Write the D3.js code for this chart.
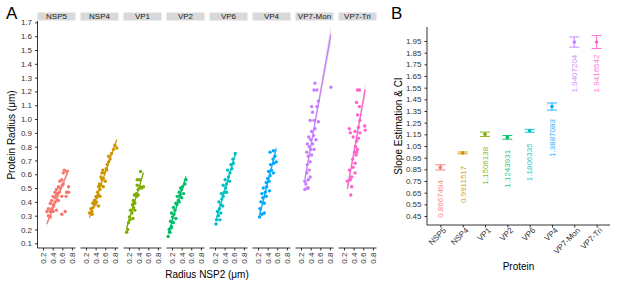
<!DOCTYPE html>
<html>
<head>
<meta charset="utf-8">
<script src="https://cdn.jsdelivr.net/npm/d3@7"></script>
<style>
  body { margin: 0; background: #fff; }
  svg { font-family: "Liberation Sans", Arial, Helvetica, sans-serif; }
  .axis path, .axis line { stroke: #000; stroke-width: 0.8; }
  .axis text { fill: #333; font-size: 8px; }
</style>
</head>
<body>
<svg id="chart" width="617" height="282"></svg>
<script>
"use strict";

// proteins and their hue colours
const proteins = ["NSP5", "NSP4", "VP1", "VP2", "VP6", "VP4", "VP7-Mon", "VP7-Tri"];
const colors = ["#F8766D", "#CD9600", "#7CAE00", "#00BE67", "#00BFC4", "#00A9FF", "#C77CFF", "#FF61CC"];

// panel A: [radius NSP2, protein radius] per protein (um)
const nsp5Points = [[0.64,0.63],[0.62,0.61],[0.69,0.62],[0.59,0.56],[0.55,0.55],[0.62,0.53],[0.52,0.51],[0.73,0.51],
  [0.48,0.49],[0.45,0.47],[0.54,0.47],[0.69,0.47],[0.41,0.44],[0.48,0.45],[0.59,0.44],[0.38,0.41],[0.45,0.40],
  [0.52,0.41],[0.35,0.39],[0.41,0.38],[0.31,0.35],[0.38,0.35],[0.28,0.33],[0.35,0.33],[0.41,0.33],[0.59,0.31],
  [0.66,0.33],[0.48,0.34],[0.31,0.30],[0.35,0.29],[0.73,0.47],[0.68,0.44],[0.45,0.43],[0.50,0.46],[0.42,0.37],
  [0.55,0.50],[0.60,0.52]];
const nsp4Points = [[0.27,0.32],[0.32,0.33],[0.30,0.35],[0.35,0.36],[0.39,0.38],[0.34,0.39],[0.42,0.40],[0.37,0.41],
  [0.41,0.44],[0.46,0.45],[0.44,0.47],[0.49,0.49],[0.46,0.51],[0.51,0.52],[0.48,0.53],[0.53,0.56],[0.56,0.57],
  [0.51,0.58],[0.58,0.61],[0.55,0.63],[0.62,0.64],[0.64,0.67],[0.67,0.69],[0.70,0.71],[0.67,0.73],[0.73,0.75],
  [0.77,0.78],[0.84,0.79],[0.80,0.81],[0.42,0.43],[0.39,0.39],[0.49,0.44],[0.56,0.51],[0.60,0.55],[0.46,0.37],
  [0.33,0.31],[0.53,0.61],[0.63,0.63]];
const vp1Points = [[0.15,0.18],[0.17,0.20],[0.19,0.25],[0.22,0.27],[0.21,0.29],[0.26,0.32],[0.23,0.34],[0.29,0.36],
  [0.27,0.38],[0.32,0.39],[0.29,0.41],[0.36,0.44],[0.31,0.45],[0.35,0.46],[0.39,0.49],[0.43,0.51],[0.37,0.52],
  [0.46,0.50],[0.50,0.51],[0.42,0.56],[0.37,0.56],[0.44,0.62],[0.32,0.34],[0.28,0.28],[0.30,0.40],[0.39,0.45]];
const vp2Points = [[0.12,0.15],[0.16,0.18],[0.14,0.20],[0.19,0.22],[0.17,0.26],[0.21,0.29],[0.24,0.31],[0.19,0.32],
  [0.26,0.34],[0.23,0.36],[0.30,0.38],[0.28,0.39],[0.33,0.41],[0.31,0.44],[0.37,0.45],[0.35,0.47],[0.40,0.49],
  [0.42,0.51],[0.38,0.50],[0.47,0.53],[0.49,0.56],[0.44,0.46],[0.28,0.28],[0.23,0.25],[0.35,0.40],[0.40,0.43],
  [0.18,0.21]];
const vp6Points = [[0.22,0.24],[0.23,0.27],[0.27,0.30],[0.25,0.33],[0.29,0.35],[0.32,0.38],[0.28,0.40],[0.34,0.42],
  [0.37,0.44],[0.33,0.46],[0.39,0.47],[0.42,0.50],[0.37,0.52],[0.44,0.53],[0.41,0.56],[0.48,0.58],[0.51,0.61],
  [0.46,0.63],[0.55,0.64],[0.53,0.67],[0.58,0.68],[0.57,0.71],[0.62,0.75],[0.32,0.32],[0.36,0.37],[0.44,0.47],
  [0.50,0.55],[0.30,0.27]];
const vp4Points = [[0.23,0.29],[0.28,0.31],[0.33,0.32],[0.26,0.40],[0.30,0.43],[0.28,0.46],[0.35,0.47],[0.31,0.50],
  [0.38,0.51],[0.37,0.54],[0.43,0.55],[0.40,0.57],[0.45,0.59],[0.42,0.62],[0.48,0.63],[0.52,0.61],[0.46,0.67],
  [0.53,0.68],[0.51,0.71],[0.55,0.73],[0.45,0.76],[0.52,0.77],[0.58,0.69],[0.33,0.39],[0.37,0.44],[0.44,0.48],
  [0.24,0.35]];
const vp7MonPoints = [[0.28,0.49],[0.33,0.50],[0.30,0.53],[0.35,0.56],[0.32,0.61],[0.37,0.63],[0.33,0.67],[0.39,0.69],
  [0.35,0.73],[0.42,0.74],[0.32,0.76],[0.40,0.78],[0.37,0.80],[0.44,0.82],[0.40,0.85],[0.36,0.87],[0.46,0.88],
  [0.42,0.91],[0.49,0.93],[0.39,0.99],[0.47,0.99],[0.56,0.98],[0.44,1.05],[0.53,1.09],[0.42,1.09],[0.56,1.13],
  [0.47,1.21],[0.53,1.21],[0.49,1.26],[0.82,1.23],[0.35,0.50],[0.39,0.58],[0.47,0.78],[0.51,0.85],[0.33,0.82],
  [0.28,0.55]];
const vp7TriPoints = [[0.34,0.45],[0.27,0.55],[0.33,0.56],[0.36,0.58],[0.31,0.63],[0.39,0.65],[0.43,0.68],[0.38,0.71],
  [0.45,0.74],[0.42,0.76],[0.48,0.78],[0.44,0.80],[0.46,0.84],[0.50,0.86],[0.39,0.87],[0.53,0.90],[0.43,0.91],
  [0.33,0.90],[0.31,0.93],[0.50,0.94],[0.63,0.95],[0.64,0.92],[0.53,0.99],[0.48,1.03],[0.52,1.09],[0.46,1.12],
  [0.48,1.21],[0.52,1.21],[0.43,0.61],[0.46,0.76],[0.36,0.51]];
const scatterSets = [nsp5Points, nsp4Points, vp1Points, vp2Points, vp6Points, vp4Points, vp7MonPoints, vp7TriPoints];

// panel B: slope estimate and its confidence interval
const slopeEstimates = [0.8667494, 0.9911517, 1.1506138, 1.1243931, 1.1806335, 1.3887083, 1.9407204, 1.9416542];
const slopeLow = [0.845, 0.983, 1.132, 1.108, 1.168, 1.358, 1.897, 1.886];
const slopeHigh = [0.889, 0.999, 1.169, 1.140, 1.193, 1.419, 1.985, 1.997];

// tick values
const yTicksA = d3.range(1, 18).map(d => d / 10);
const xTicksA = [0.2, 0.4, 0.6, 0.8];
const yTicksB = d3.range(0, 16).map(d => 0.45 + d / 10);

let svg = d3.select("#chart");

// ---------- panel A ----------
let facetLeft = 37.5, facetPitch = 43, facetWidth = 38;
let aTop = 21, aBottom = 248;
let yA = d3.scaleLinear().domain([0.066, 1.71]).range([aBottom, aTop]);
let xA = d3.scaleLinear().domain([0.085, 0.875]).range([0, facetWidth]);

svg.append("text").attr("x", 6).attr("y", 19).style("font-size", "17px").text("A");

let yAxisA = d3.axisLeft(yA).tickValues(yTicksA).tickSize(2.5).tickFormat(d3.format(".1f"));
svg.append("g").classed("axis", true)
  .attr("transform", `translate(${facetLeft},0)`).call(yAxisA)
  .call(g => g.select(".domain").attr("d", `M0,${aTop}V${aBottom}`));

proteins.forEach((name, i) => {
  let pts = scatterSets[i];
  let g = svg.append("g").attr("transform", `translate(${facetLeft + facetPitch * i},0)`);

  g.append("rect").attr("x", 0).attr("y", 12.5).attr("width", facetWidth).attr("height", 8)
    .style("fill", "#d9d9d9");
  g.append("text").attr("x", facetWidth / 2).attr("y", 19.3).attr("text-anchor", "middle")
    .style("font-size", "8px").style("fill", "#1a1a1a").text(name);

  // fitted line through the centroid with slope from panel B, plus a narrow confidence band
  let slope = slopeEstimates[i];
  let mx = d3.mean(pts, d => d[0]), my = d3.mean(pts, d => d[1]);
  let n = pts.length;
  let sxx = d3.sum(pts, d => (d[0] - mx) ** 2);
  let s = Math.sqrt(d3.sum(pts, d => (d[1] - (my + slope * (d[0] - mx))) ** 2) / (n - 2));
  let [x0, x1] = d3.extent(pts, d => d[0]);
  let xs = d3.range(0, 21).map(k => x0 + (x1 - x0) * k / 20);
  let band = xs.map(x => {
    let fit = my + slope * (x - mx);
    let half = 0.7 * s * Math.sqrt(1 / n + (x - mx) ** 2 / sxx);
    return { x, lo: fit - half, hi: fit + half };
  });

  g.append("path").datum(band)
    .attr("d", d3.area().x(d => xA(d.x)).y0(d => yA(d.lo)).y1(d => yA(d.hi)))
    .style("fill", "#999").style("opacity", 0.3);

  pts.forEach(d => {
    g.append("circle").attr("cx", xA(d[0])).attr("cy", yA(d[1])).attr("r", 1.7)
      .style("fill", colors[i]);
  });

  g.append("line")
    .attr("x1", xA(x0)).attr("y1", yA(my + slope * (x0 - mx)))
    .attr("x2", xA(x1)).attr("y2", yA(my + slope * (x1 - mx)))
    .style("stroke", colors[i]).style("stroke-width", 1.3);

  let xAxis = d3.axisBottom(xA).tickValues(xTicksA).tickSize(2.5).tickFormat(d3.format(".1f"));
  g.append("g").classed("axis", true).attr("transform", `translate(0,${aBottom})`).call(xAxis)
    .call(ax => ax.select(".domain").attr("d", `M0,0H${facetWidth}`))
    .selectAll("text")
    .attr("transform", "rotate(-90)").attr("text-anchor", "end")
    .attr("x", -4.5).attr("y", 0).attr("dy", "0.32em");
});

svg.append("text").attr("x", (facetLeft + facetLeft + facetPitch * 7 + facetWidth) / 2).attr("y", 278)
  .attr("text-anchor", "middle").style("font-size", "10px").text("Radius NSP2 (μm)");
svg.append("text").attr("transform", `translate(15,135) rotate(-90)`)
  .attr("text-anchor", "middle").style("font-size", "10px").text("Protein Radius (μm)");

// ---------- panel B ----------
let bLeft = 427, bRight = 610, bTop = 27, bBottom = 225;
let yB = d3.scaleLinear().domain([0.373, 2.07]).range([bBottom, bTop]);
let xB = d3.scalePoint().domain(proteins).range([bLeft, bRight]).padding(0.6);

svg.append("text").attr("x", 391).attr("y", 19).style("font-size", "17px").text("B");

svg.append("g").classed("axis", true).attr("transform", `translate(${bLeft},0)`)
  .call(d3.axisLeft(yB).tickValues(yTicksB).tickSize(2.5).tickFormat(d3.format(".2f")))
  .call(g => g.select(".domain").attr("d", `M0,${bTop}V${bBottom}`));

svg.append("g").classed("axis", true).attr("transform", `translate(0,${bBottom})`)
  .call(d3.axisBottom(xB).tickSize(2.5))
  .call(g => g.select(".domain").attr("d", `M${bLeft},0H${bRight}`))
  .selectAll("text")
  .attr("transform", "translate(3,3) rotate(-45)").attr("text-anchor", "end")
  .attr("x", 0).attr("y", 0).attr("dy", "0.5em");

proteins.forEach((name, i) => {
  let cx = xB(name);
  let g = svg.append("g").style("stroke", colors[i]).style("stroke-width", 0.9);
  g.append("line").attr("x1", cx).attr("x2", cx).attr("y1", yB(slopeLow[i])).attr("y2", yB(slopeHigh[i]));
  g.append("line").attr("x1", cx - 5).attr("x2", cx + 5).attr("y1", yB(slopeLow[i])).attr("y2", yB(slopeLow[i]));
  g.append("line").attr("x1", cx - 5).attr("x2", cx + 5).attr("y1", yB(slopeHigh[i])).attr("y2", yB(slopeHigh[i]));
  svg.append("circle").attr("cx", cx).attr("cy", yB(slopeEstimates[i])).attr("r", 1.8).style("fill", colors[i]);

  svg.append("text")
    .attr("transform", `translate(${cx},${yB(slopeEstimates[i] - 0.27)}) rotate(-90)`)
    .attr("text-anchor", "middle").attr("dy", "0.35em")
    .style("font-size", "8px").style("fill", colors[i]).style("opacity", 0.85)
    .text(String(slopeEstimates[i]));
});

svg.append("text").attr("x", (bLeft + bRight) / 2).attr("y", 270).attr("text-anchor", "middle")
  .style("font-size", "10px").text("Protein");
svg.append("text").attr("transform", `translate(402,${(bTop + bBottom) / 2}) rotate(-90)`)
  .attr("text-anchor", "middle").style("font-size", "10px").text("Slope Estimation & CI");
</script>
</body>
</html>
